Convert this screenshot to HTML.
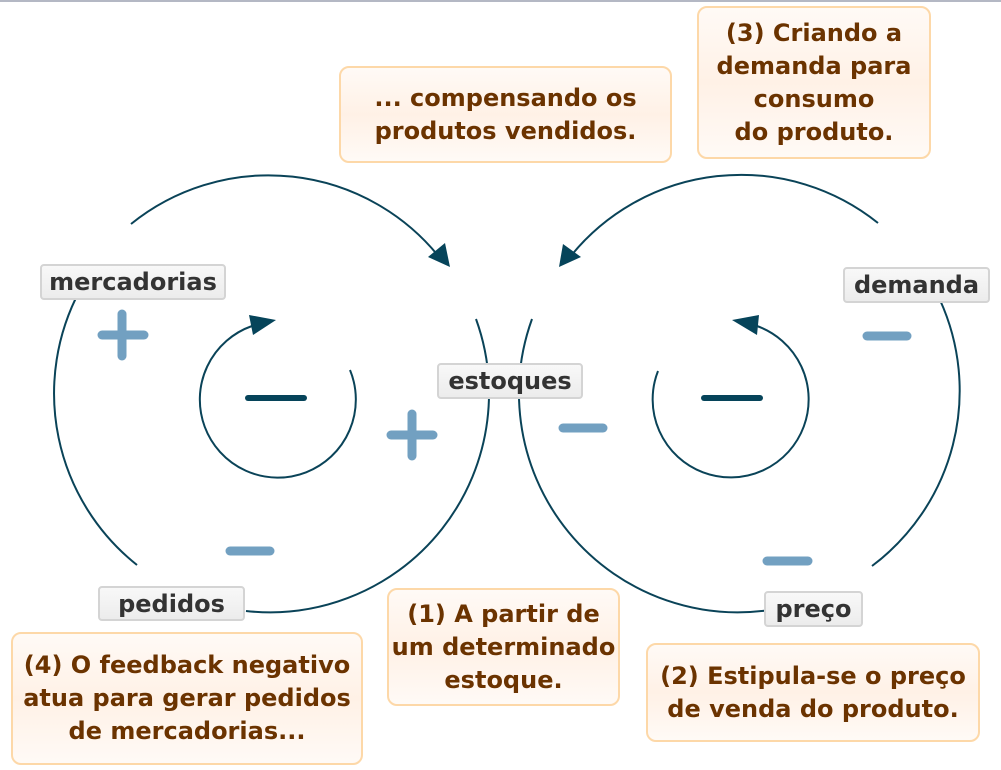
<!DOCTYPE html>
<html><head><meta charset="utf-8"><style>
html,body{margin:0;padding:0;background:#fff;}
body{width:1001px;height:770px;position:relative;overflow:hidden;font-family:"DejaVu Sans","Liberation Sans",sans-serif;}
.top{position:absolute;left:0;top:0;width:1001px;height:2px;background:#b4b8c4;}
.lbl{position:absolute;box-sizing:border-box;border:2px solid #d4d4d4;border-radius:4px;background:linear-gradient(#f8f8f8,#ececec);color:#333;font-weight:bold;font-size:24px;text-align:center;line-height:32px;white-space:nowrap;}
.co{position:absolute;box-sizing:border-box;border:2px solid #fdd8a8;border-radius:10px;background:linear-gradient(#fffaf6,#fff1e6 50%,#fffaf6);color:#6b3300;font-weight:bold;font-size:24px;text-align:center;display:flex;align-items:center;justify-content:center;line-height:33px;white-space:nowrap;}
svg{position:absolute;left:0;top:0;}
</style></head><body>
<div class="top"></div>
<svg width="1001" height="770" viewBox="0 0 1001 770">
<g fill="none" stroke="#0a4358" stroke-width="2">
<path d="M131,224 A219,219 0 0 1 440,258"/>
<path d="M476,319 A219,219 0 0 1 246,611"/>
<path d="M137,565 A219,219 0 0 1 80,290"/>
<path d="M878,223 A219,219 0 0 0 570,257"/>
<path d="M532,319 A219,219 0 0 0 770,610"/>
<path d="M872,566 A219,219 0 0 0 940,300"/>
<path d="M350,370 A78,78 0 1 1 252,326"/>
<path d="M658,371 A78,78 0 1 0 757,326"/>
</g>
<g fill="#06445a">
<polygon points="428,257 445,243 450,267"/>
<polygon points="559,267 563,244 581,257"/>
<polygon points="276,320 249,315 253,335"/>
<polygon points="732,320 759,315 757,335"/>
</g>
<g stroke="#72a0c1" stroke-width="9" stroke-linecap="round">
<line x1="102" y1="335" x2="144" y2="335"/><line x1="122" y1="314" x2="122" y2="356"/>
<line x1="391" y1="435" x2="433" y2="435"/><line x1="412" y1="414" x2="412" y2="456"/>
<line x1="230" y1="551" x2="270" y2="551"/>
<line x1="563" y1="428" x2="603" y2="428"/>
<line x1="867" y1="336" x2="907" y2="336"/>
<line x1="767" y1="561" x2="808" y2="561"/>
</g>
<g stroke="#06445a" stroke-width="6" stroke-linecap="round">
<line x1="248" y1="398" x2="304" y2="398"/>
<line x1="704" y1="398" x2="760" y2="398"/>
</g>
</svg>
<div class="lbl" style="left:40px;top:264px;width:186px;height:36px;">mercadorias</div>
<div class="lbl" style="left:437px;top:363px;width:146px;height:36px;">estoques</div>
<div class="lbl" style="left:843px;top:267px;width:147px;height:36px;">demanda</div>
<div class="lbl" style="left:98px;top:586px;width:147px;height:35px;">pedidos</div>
<div class="lbl" style="left:764px;top:591px;width:99px;height:36px;">preço</div>
<div class="co" style="left:339px;top:66px;width:333px;height:97px;">... compensando os<br>produtos vendidos.</div>
<div class="co" style="left:697px;top:6px;width:234px;height:153px;">(3) Criando a<br>demanda para<br>consumo<br>do produto.</div>
<div class="co" style="left:387px;top:588px;width:233px;height:118px;">(1) A partir de<br>um determinado<br>estoque.</div>
<div class="co" style="left:646px;top:643px;width:334px;height:99px;">(2) Estipula-se o preço<br>de venda do produto.</div>
<div class="co" style="left:11px;top:632px;width:352px;height:133px;">(4) O feedback negativo<br>atua para gerar pedidos<br>de mercadorias...</div>
</body></html>
